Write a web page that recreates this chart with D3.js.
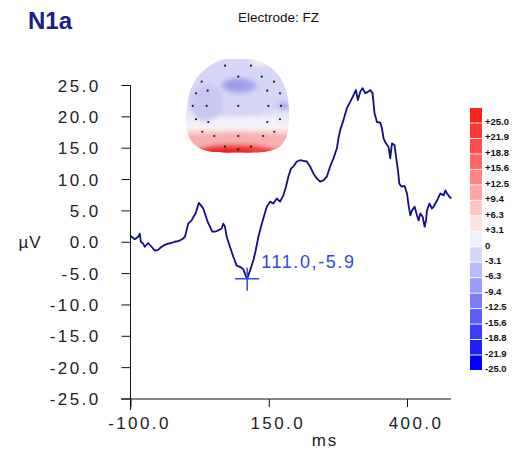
<!DOCTYPE html>
<html><head><meta charset="utf-8">
<script src="https://cdn.jsdelivr.net/npm/d3@7"></script>
<style>body{margin:0;background:#fff}svg{display:block}text{font-family:"Liberation Sans",Arial,sans-serif}</style>
</head><body>
<svg id="c" width="518" height="449"></svg>
<script>
// ---- data ----
const timesMs = [-100,-98.2,-92.2,-86.2,-83.2,-81.3,-77.2,-74.1,-68.1,-62.0,-56,-50,-43.8,-37.9,-31.9,-25.7,-19.7,-13.8,-6.5,-1.6,1.4,4.3,10.5,13.4,17.8,21.4,23.7,27.4,31.5,34.6,39.5,43.7,47.8,
52.7,58.7,64.9,67.8,70.8,73.9,79.9,85.9,92.0,98.0,104.0,108.3,111.0,116.1,122.1,126.4,131.2,136.0,140.2,146.4,152.4,158.3,164.5,170.5,176.4,181.3,185.5,190.4,194.6,
200.7,206.7,212.7,218.8,224.8,230.8,236.9,242.9,248.9,255.1,261.0,267.0,273.2,276.1,279.2,285.1,291.3,297.3,303.3,307.6,311.2,315.4,319.6,324.5,329.3,333.5,337.7,339.5,341.3,345.7,351.6,354.7,357.6,361.9,366.7,369.7,372.8,377.5,380.1,383.7,386.0,389.7,395.6,400.0,402.9,406.0,409.1,413.8,418.1,421.0,424.1,428.3,431.9,434.4,436.2,440.4,445.3,448.2,451.3,456.2,460.3,466.3,469.4,472.5,476.6,480.3];
const amplitudesUv = [1.0,0.8,0.4,0.8,1.3,0.0,-0.3,-0.8,-0.2,-0.8,-1.4,-1.3,-0.8,-0.5,-0.3,-0.2,0.0,0.1,0.4,0.8,1.8,2.9,3.4,3.9,4.5,5.6,6.2,5.8,5.3,4.5,3.2,2.4,1.6,
1.6,1.8,2.1,2.9,2.4,0.8,-0.8,-2.4,-3.8,-4.0,-4.4,-5.4,-5.9,-4.6,-3.0,-1.4,0.8,2.4,3.7,5.6,6.4,6.1,6.9,6.4,7.4,8.8,10.4,11.7,12.0,
12.8,13.0,12.9,12.8,12.0,10.9,10.1,9.6,9.8,10.4,12.0,13.3,14.9,16.5,17.8,19.4,21.3,22.3,23.4,24.2,22.6,23.9,24.5,23.7,23.9,24.2,23.7,22.1,20.5,19.1,19.0,18.1,16.5,15.7,15.1,13.3,15.7,15.4,13.6,11.4,9.3,8.8,8.9,7.7,5.8,4.2,5.0,5.6,4.2,3.4,4.5,4.0,2.4,3.4,5.0,6.1,5.3,5.6,6.1,6.9,7.7,7.4,8.2,7.7,7.2,6.9];
const yTickValues = [25,20,15,10,5,0,-5,-10,-15,-20,-25];
const xTickValues = [-100,150,400];
const peakMs = 111.0, peakUv = -5.9;
const legendLabels = ["+25.0","+21.9","+18.8","+15.6","+12.5","+9.4","+6.3","+3.1","0","-3.1","-6.3","-9.4","-12.5","-15.6","-18.8","-21.9","-25.0"];
const legendColors = ["#ff2020","#ff3636","#ff4c4c","#ff6666","#ff8484","#ffa4a4","#ffc4c4","#ffe2e2","#f0f0ff","#d6d6ff","#babaff","#9c9cff","#7c7cff","#5c5cff","#3c3cff","#1e1eff","#0000ff"];
// topographic map (head units 0..1)
const headOutline = [[0.503,0],[0.66,0.005],[0.8,0.075],[0.9,0.18],[0.968,0.34],[0.997,0.513],[0.997,0.693],[0.972,0.838],[0.905,0.946],[0.781,0.998],[0.503,1.01],[0.232,0.998],[0.11,0.946],[0.026,0.838],[0.002,0.693],[0.008,0.513],[0.042,0.34],[0.12,0.18],[0.225,0.075],[0.35,0.005]];
const electrodes = [[.378,.069],[.629,.069],[.152,.242],[.506,.188],[.733,.188],[.852,.242],[.097,.368],[.21,.34],[.787,.34],[.91,.368],[.065,.505],[.2,.505],[.506,.505],[.797,.505],[.92,.505],[.097,.649],[.216,.679],[.787,.679],[.91,.649],[.158,.784],[.274,.83],[.506,.83],[.748,.83],[.855,.784],[.378,.946],[.506,.974],[.629,.946]];
const mapBlobs = [
  {u:.5,v:.3,ru:.55,rv:.33,c:"#d6d6f6"},
  {u:.2,v:.47,ru:.16,rv:.2,c:"#c8c8f3"},
  {u:.515,v:.285,ru:.17,rv:.085,c:"#a8a8ee"},
  {u:.49,v:.28,ru:.1,rv:.05,c:"#9c9cec"},
  {u:.95,v:.505,ru:.06,rv:.045,c:"#b0b0ef"},
  {u:.75,v:.03,ru:.15,rv:.04,c:"#f8e8ee"},
  {u:.55,v:.68,ru:.35,rv:.06,c:"#f2f2fc"},
  {u:.5,v:.9,ru:.6,rv:.1,c:"#f8b0b0"},
  {u:.48,v:.99,ru:.38,rv:.07,c:"#f04040"},
  {u:.42,v:1.0,ru:.22,rv:.04,c:"#ea2424"}
];

// ---- chart ----
const svg = d3.select("#c");
const x = d3.scaleLinear().domain([-100,400]).range([130.5,407]);
const y = d3.scaleLinear().domain([-25,25]).range([398.5,85]);
const axisColor = "#111";
const fmt = d3.formatLocale({decimal:".",thousands:",",grouping:[3],currency:["",""],minus:"-"}).format(".1f");

// title
svg.append("text").attr("x",28).attr("y",29).attr("font-size",24).attr("font-weight","bold").attr("fill","#1c1c8c").text("N1a");
svg.append("text").attr("x",238).attr("y",22).attr("font-size",13.5).attr("fill","#111").text("Electrode: FZ");

// topomap
const hx = d3.scaleLinear().domain([0,1]).range([186,289.3]);
const hy = d3.scaleLinear().domain([0,1]).range([59.3,151.7]);
const defs = svg.append("defs");
const headPath = d3.line().x(d=>hx(d[0])).y(d=>hy(d[1])).curve(d3.curveCatmullRomClosed)(headOutline);
defs.append("clipPath").attr("id","head").append("path").attr("d",headPath);
defs.append("filter").attr("id","blur").attr("x","-50%").attr("y","-50%").attr("width","200%").attr("height","200%")
  .append("feGaussianBlur").attr("stdDeviation",2.2);
const grad = defs.append("linearGradient").attr("id","hg").attr("x1",0).attr("x2",0).attr("y1",0).attr("y2",1);
[[0,"#e0e0f8"],[0.55,"#e2e2f8"],[0.66,"#ececfb"],[0.73,"#fbeff2"],[0.8,"#f9cccc"],[0.88,"#f59494"],[0.95,"#f05454"],[1,"#ee3c3c"]]
  .forEach(s=>grad.append("stop").attr("offset",s[0]).attr("stop-color",s[1]));
const map = svg.append("g").attr("clip-path","url(#head)");
map.append("path").attr("d",headPath).attr("fill","url(#hg)");
map.append("g").attr("filter","url(#blur)").selectAll("ellipse").data(mapBlobs).join("ellipse")
  .attr("cx",d=>hx(d.u)).attr("cy",d=>hy(d.v))
  .attr("rx",d=>hx(d.ru)-hx(0)).attr("ry",d=>hy(d.rv)-hy(0)).attr("fill",d=>d.c);
svg.append("g").selectAll("circle").data(electrodes).join("circle")
  .attr("cx",d=>hx(d[0])).attr("cy",d=>hy(d[1])).attr("r",1.1).attr("fill","#1a1a1a");

// y axis
const yAxis = d3.axisLeft(y).tickValues(yTickValues).tickSize(9).tickPadding(21).tickFormat(fmt);
const gy = svg.append("g").attr("transform","translate(130.5,0)").call(yAxis);
gy.select(".domain").remove();
gy.selectAll("line").attr("stroke",axisColor);
gy.selectAll("text").attr("font-size",17).attr("letter-spacing",2.4).attr("fill","#222").attr("font-family","Liberation Sans, Arial, sans-serif").attr("dy","0.36em");
svg.append("line").attr("x1",130.5).attr("x2",130.5).attr("y1",y(25)).attr("y2",410).attr("stroke",axisColor);

// x axis
const xAxis = d3.axisBottom(x).tickValues(xTickValues).tickSize(8).tickFormat(fmt);
const gx = svg.append("g").attr("transform","translate(0,399)").call(xAxis);
gx.select(".domain").remove();
gx.selectAll("line").attr("stroke",axisColor);
gx.selectAll("text").attr("font-size",17).attr("letter-spacing",2.4).attr("fill","#222").attr("font-family","Liberation Sans, Arial, sans-serif")
  .attr("y",30).attr("dy",0).attr("dx",8.5);
svg.append("line").attr("x1",121).attr("x2",451).attr("y1",399).attr("y2",399).attr("stroke",axisColor);

svg.append("text").attr("x",325).attr("y",446).attr("text-anchor","middle").attr("font-size",17).attr("letter-spacing",2).attr("fill","#222").text("ms");
svg.append("text").attr("x",30).attr("y",y(0)).attr("dy","0.36em").attr("text-anchor","middle").attr("font-size",17).attr("letter-spacing",1).attr("fill","#222").text("µV");

// waveform
const pts = d3.zip(timesMs, amplitudesUv);
svg.append("path").datum(pts).attr("fill","none").attr("stroke","#0f0f88").attr("stroke-width",1.8).attr("stroke-linejoin","round")
  .attr("d", d3.line().x(d=>x(d[0])).y(d=>y(d[1])));

// peak marker
const mc = "#3346e0";
const px = x(peakMs), py = y(peakUv);
svg.append("line").attr("x1",px-12).attr("x2",px+12).attr("y1",py).attr("y2",py).attr("stroke",mc).attr("stroke-width",1.5);
svg.append("line").attr("x1",px).attr("x2",px).attr("y1",py-11).attr("y2",py+12).attr("stroke",mc).attr("stroke-width",1.5);
svg.append("text").attr("x",px+14).attr("y",py-11).attr("font-size",18).attr("letter-spacing",1.6).attr("fill",mc)
  .text(fmt(peakMs)+","+fmt(peakUv));

// colour legend
const ly = d3.scaleBand().domain(d3.range(legendColors.length)).range([108,370]).paddingInner(0.06);
const lg = svg.append("g");
lg.selectAll("rect").data(legendColors).join("rect")
  .attr("x",470).attr("width",12).attr("y",(d,i)=>ly(i)).attr("height",ly.bandwidth()).attr("fill",d=>d);
lg.selectAll("text").data(legendLabels).join("text")
  .attr("x",485).attr("y",(d,i)=>ly(i)+ly.step()-2).attr("dy","0.35em")
  .attr("font-size",9.5).attr("font-weight","bold").attr("fill","#111").text(d=>d);
</script>
</body></html>
